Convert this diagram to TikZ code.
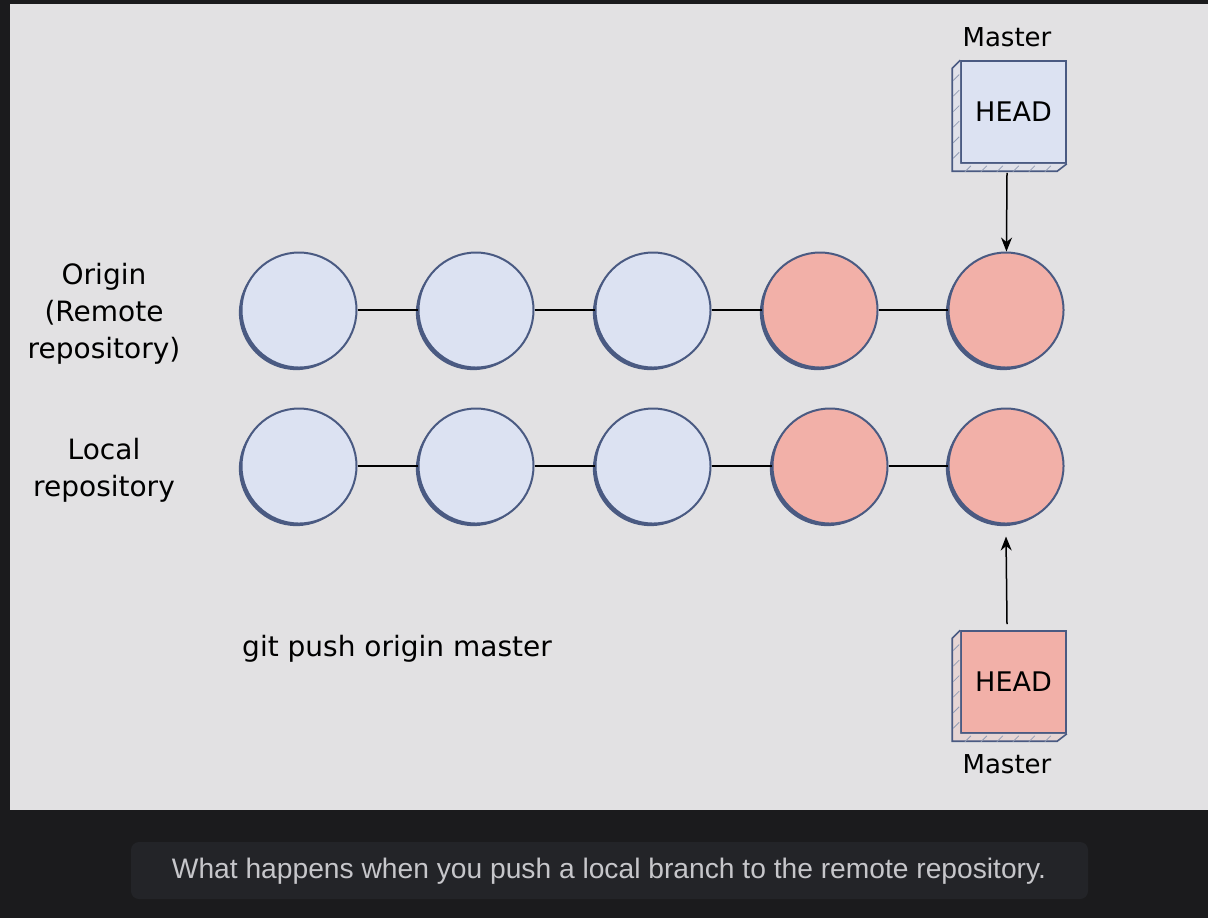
\documentclass[tikz,border=0pt]{standalone}
\usepackage{fontspec}
\setmainfont{DejaVu Sans}
\newfontfamily\capfont{Liberation Sans}
\usetikzlibrary{arrows.meta,positioning,shadows,calc}

\definecolor{bgdark}{HTML}{1B1B1D}
\definecolor{panelgray}{HTML}{E2E1E3}
\definecolor{capbox}{HTML}{232428}
\definecolor{captext}{HTML}{C6C6CA}
\definecolor{commitblue}{HTML}{DCE2F2}
\definecolor{commitred}{HTML}{F2B0A8}
\definecolor{rim}{HTML}{4A5A82}

\tikzset{
  commit/.style={circle,draw=rim,line width=1pt,fill=#1,
    minimum size=57.5pt,inner sep=0pt,
    drop shadow={shadow xshift=-1.3pt,shadow yshift=-1.3pt,
      shadow scale=1,fill=rim,opacity=1}},
  headbox/.style={rectangle,draw=rim,line width=0.8pt,fill=#1,
    minimum width=52.5pt,minimum height=51pt,inner sep=0pt,
    font=\fontsize{13.5}{15}\selectfont},
  link/.style={line width=0.75pt,black},
  pointer/.style={line width=0.75pt,black,-{Stealth[length=7pt,width=5.5pt]}},
  label/.style={align=center,text=black,font=\fontsize{14}{18.5}\selectfont}
}

\begin{document}
\begin{tikzpicture}[x=0.5pt,y=-0.5pt]
% background and panel
\fill[bgdark] (0,0) rectangle (1208,918);
\fill[panelgray] (10,4) rectangle (1208,810);
\fill[capbox,rounded corners=4pt] (131,842) rectangle (1088,899);
\node[text=captext,font=\capfont\fontsize{14.1}{16}\selectfont] (cap) at (609,871)
  {What happens when you push a local branch to the remote repository.};

% commits
\foreach \n/\x/\c in {1/299/commitblue,2/476/commitblue,3/653/commitblue,
                      4/820/commitred,5/1006/commitred}
  \node[commit=\c] (o\n) at (\x,310) {};
\foreach \n/\x/\c in {1/299/commitblue,2/476/commitblue,3/653/commitblue,
                      4/830/commitred,5/1006/commitred}
  \node[commit=\c] (l\n) at (\x,466) {};
\foreach \a/\b in {1/2,2/3,3/4,4/5} {
  \draw[link] (o\a) -- (o\b);
  \draw[link] (l\a) -- (l\b);
}

% branch pointers
\node[headbox=commitblue] (hO) at (1013.5,112) {HEAD};
\node[headbox=commitred]  (hL) at (1013.5,682) {HEAD};
\fill[commitblue!40!panelgray] (hO.north west) -- ++(-8,8) |- ++(105,103)
  -- (hO.south east) -- (hO.south west) -- cycle;
\fill[commitred!25!panelgray] (hL.north west) -- ++(-8,8) |- ++(105,103)
  -- (hL.south east) -- (hL.south west) -- cycle;
\foreach \b in {hO,hL} {
  \draw[rim,line width=0.8pt] (\b.north west) -- ++(-8,8) |- ++(105,103)
    -- (\b.south east);
  \foreach \t in {0.1,0.25,0.4,0.55,0.7,0.85}
    \draw[rim!60,line width=0.4pt] ($(\b.north west)!\t!(\b.south west)$)
      ++(-7,10) -- ++(6,-6);
  \foreach \t in {0.1,0.25,0.4,0.55,0.7,0.85}
    \draw[rim!60,line width=0.4pt] ($(\b.south west)!\t!(\b.south east)$)
      ++(-6,8) -- ++(6,-6);
}
\node[label,font=\fontsize{13}{15}\selectfont] (mO) at (1007,37) {Master};
\node[label,font=\fontsize{13}{15}\selectfont] (mL) at (1007,764) {Master};
\draw[pointer] ([xshift=-3.25pt,yshift=-4.5pt]hO.south) -- (o5);
\draw[pointer] ([xshift=-3.25pt,yshift=3pt]hL.north) -- ([yshift=-6pt]l5.south);

% labels
\node[label] (origin) at (104,314) {Origin\\(Remote\\repository)};
\node[label] (local) at (104,470) {Local\\repository};
\node[label] (cmd) at (397,649) {git push origin master};
\end{tikzpicture}
\end{document}
